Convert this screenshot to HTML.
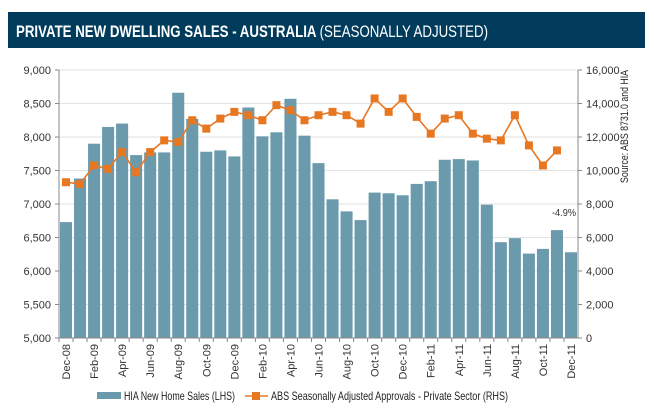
<!DOCTYPE html>
<html><head><meta charset="utf-8"><style>
body{margin:0;background:#fff;width:655px;height:410px;overflow:hidden;font-family:"Liberation Sans",sans-serif}
</style></head><body>
<svg width="655" height="410" font-family="Liberation Sans, sans-serif">
<rect x="8" y="12" width="637" height="36" fill="#003b5c"/>
<text x="16" y="37" fill="#fff" font-size="17" font-weight="bold" textLength="472" lengthAdjust="spacingAndGlyphs">PRIVATE NEW DWELLING SALES -  AUSTRALIA <tspan font-weight="normal">(SEASONALLY ADJUSTED)</tspan></text>
<g id="grid"></g><g id="bars"></g><g id="line"></g><g id="axes"></g>
<text x="564" y="216" font-size="10" fill="#333" text-anchor="middle" textLength="24" lengthAdjust="spacingAndGlyphs">-4.9%</text>
<text transform="translate(628,183) rotate(-90)" font-size="11" fill="#222" textLength="113" lengthAdjust="spacingAndGlyphs">Source: ABS 8731.0 and HIA</text>
<rect x="97" y="392" width="24" height="7" fill="#6a9aab"/>
<text x="124" y="400" font-size="12" fill="#222" textLength="111" lengthAdjust="spacingAndGlyphs">HIA New Home Sales (LHS)</text>
<line x1="245" y1="396" x2="268" y2="396" stroke="#e87722" stroke-width="1.5"/>
<rect x="252" y="392" width="8" height="8" fill="#e87722"/>
<text x="271" y="400" font-size="12" fill="#222" textLength="237" lengthAdjust="spacingAndGlyphs">ABS Seasonally Adjusted Approvals - Private Sector (RHS)</text>
</svg>
<script>
const months=["Dec-08","Jan-09","Feb-09","Mar-09","Apr-09","May-09","Jun-09","Jul-09","Aug-09","Sep-09","Oct-09","Nov-09","Dec-09","Jan-10","Feb-10","Mar-10","Apr-10","May-10","Jun-10","Jul-10","Aug-10","Sep-10","Oct-10","Nov-10","Dec-10","Jan-11","Feb-11","Mar-11","Apr-11","May-11","Jun-11","Jul-11","Aug-11","Sep-11","Oct-11","Nov-11","Dec-11"];
const sales=[6730,7380,7900,8150,8200,7730,7770,7770,8660,8270,7780,7800,7710,8440,8010,8070,8570,8020,7610,7070,6890,6760,7170,7160,7130,7300,7340,7660,7670,7650,6990,6430,6490,6260,6330,6610,6280];
const approvals=[9300,9200,10300,10100,11100,9900,11100,11800,11700,13000,12500,13100,13500,13300,13000,13900,13600,13000,13300,13500,13300,12800,14300,13500,14300,13200,12200,13100,13300,12200,11900,11800,13300,11500,10300,11200];
const leftTicks=[5000,5500,6000,6500,7000,7500,8000,8500,9000];
const rightTicks=[0,2000,4000,6000,8000,10000,12000,14000,16000];
const NS="http://www.w3.org/2000/svg";
const X0=59,X1=578,Y0=338,Y1=70,slot=(X1-X0)/months.length;
const yL=v=>Y0-(v-5000)/4000*(Y0-Y1);
const yR=v=>Y0-v/16000*(Y0-Y1);
const xC=i=>X0+slot*(i+0.5);
function mk(tag,attrs,parent,txt){const e=document.createElementNS(NS,tag);for(const k in attrs)e.setAttribute(k,attrs[k]);if(txt!=null)e.textContent=txt;document.getElementById(parent).appendChild(e);return e;}
leftTicks.forEach((t,i)=>{
  const g=mk('line',{x1:X0,x2:X1,y1:yL(t),y2:yL(t),stroke:'#e2e2e2','stroke-width':1},'grid');
  
  
  const l=mk('text',{x:X0-8,y:yL(t)+4,'font-size':11,fill:'#333','text-anchor':'end'},'axes',t.toLocaleString('en-US'));
  
  
  mk('line',{x1:X0-4,x2:X0,y1:yL(t),y2:yL(t),stroke:'#888'},'axes');
});
rightTicks.forEach(t=>{
  const l=mk('text',{x:X1+8,y:yR(t)+4,'font-size':11,fill:'#333'},'axes',t.toLocaleString('en-US'));
  
  
  mk('line',{x1:X1,x2:X1+4,y1:yR(t),y2:yR(t),stroke:'#888'},'axes');
});
sales.forEach((v,i)=>{
  const b=mk('rect',{x:X0+slot*i+1,y:yL(v),width:slot-2,height:Y0-yL(v),fill:'#6a9aab'},'bars');
  
  
});
let d='';approvals.forEach((v,i)=>{d+=(i?'L':'M')+xC(i)+','+yR(v);});
const p=mk('path',{d:d,fill:'none',stroke:'#e87722','stroke-width':1.6},'line');


approvals.forEach((v,i)=>{
  const m=mk('rect',{x:xC(i)-4,y:yR(v)-4,width:8,height:8,fill:'#e87722'},'line');
  
  
});
mk('line',{x1:X0,x2:X0,y1:Y1,y2:Y0,stroke:'#888'},'axes');
mk('line',{x1:X1,x2:X1,y1:Y1,y2:Y0,stroke:'#888'},'axes');
mk('line',{x1:X0,x2:X1,y1:Y0,y2:Y0,stroke:'#888'},'axes');
months.forEach((m,i)=>{
  mk('line',{x1:X0+slot*i,x2:X0+slot*i,y1:Y0,y2:Y0+4,stroke:'#888'},'axes');
  if(i%2===0){
    const t=mk('text',{transform:'translate('+(xC(i)+4)+','+(Y0+6)+') rotate(-90)','font-size':11,fill:'#333','text-anchor':'end'},'axes',m);
    
    
  }
});
</script>
</body></html>
